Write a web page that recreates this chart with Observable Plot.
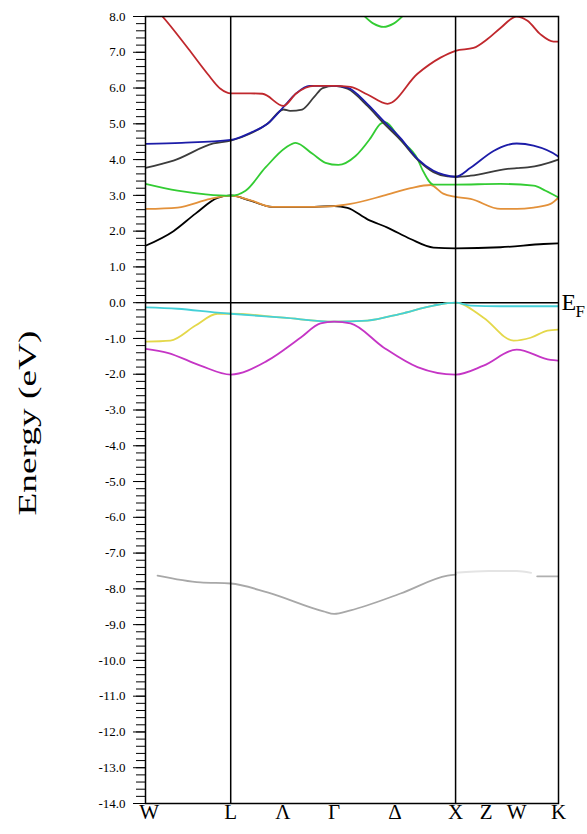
<!DOCTYPE html>
<html><head><meta charset="utf-8">
<script src="https://cdn.jsdelivr.net/npm/d3@7"></script>
<script src="https://cdn.jsdelivr.net/npm/@observablehq/plot@0.6"></script>
<style>body{margin:0;background:#fff}</style>
</head><body><div id="chart"></div>
<script>
// high-symmetry path labels and their k positions
const kNames = ["W","L","Λ","Γ","Δ","X","Z","W","K"];
const kPos   = [0.03, 0.707, 1.14, 1.565, 2.07, 2.573, 2.826, 3.08, 3.427];
const kLines = [0.707, 2.573];
const yMajor = d3.range(-14, 8.001, 1);
const yMinor = d3.range(-14, 8.001, 0.2);

// bands: [k, energy eV]
const bandGray = [[0.1,-7.63],[0.456,-7.82],[0.707,-7.85],[1.012,-8.1],[1.477,-8.63],[1.565,-8.7],[1.701,-8.6],[2.116,-8.13],[2.506,-7.63],[2.573,-7.6]];
const bandGrayFaint = [[2.573,-7.55],[2.85,-7.5],[3.08,-7.5],[3.2,-7.55]];
const bandGrayK = [[3.25,-7.65],[3.427,-7.65]];
const bandMagenta = [[0,-1.29],[0.183,-1.4],[0.456,-1.76],[0.707,-2.01],[1.012,-1.62],[1.286,-0.98],[1.452,-0.58],[1.565,-0.53],[1.701,-0.58],[1.975,-1.25],[2.257,-1.8],[2.573,-2.01],[2.805,-1.76],[3.08,-1.31],[3.361,-1.6],[3.427,-1.62]];
const bandYellow = [[0,-1.09],[0.207,-1.06],[0.415,-0.64],[0.597,-0.31],[0.707,-0.31],[1.145,-0.42],[1.565,-0.53],[1.842,-0.5],[2.116,-0.31],[2.39,-0.08],[2.573,0],[2.805,-0.42],[3.054,-1.06],[3.195,-0.98],[3.336,-0.78],[3.427,-0.75]];
const bandCyan = [[0,-0.13],[0.266,-0.17],[0.597,-0.28],[0.707,-0.31],[1.145,-0.42],[1.565,-0.53],[1.842,-0.5],[2.116,-0.31],[2.39,-0.08],[2.573,0],[2.697,-0.08],[2.946,-0.1],[3.427,-0.1]];
const bandBlack = [[0,1.59],[0.232,2.0],[0.415,2.49],[0.597,2.93],[0.707,3.0],[0.871,2.85],[1.05,2.68],[1.4,2.68],[1.565,2.7],[1.676,2.65],[1.842,2.33],[2.008,2.1],[2.199,1.78],[2.39,1.54],[2.573,1.52],[2.946,1.55],[3.303,1.64],[3.427,1.66]];
const bandOrange = [[0,2.62],[0.266,2.66],[0.539,2.9],[0.707,2.99],[0.88,2.85],[1.05,2.68],[1.4,2.68],[1.565,2.7],[1.701,2.76],[1.975,2.99],[2.2,3.2],[2.365,3.29],[2.47,3.05],[2.573,2.96],[2.697,2.9],[2.946,2.62],[3.08,2.62],[3.22,2.66],[3.361,2.76],[3.427,2.94]];
const bandGreen = [[0,3.32],[0.266,3.13],[0.5,3.03],[0.707,2.99],[0.83,3.13],[0.996,3.78],[1.162,4.33],[1.245,4.47],[1.386,4.16],[1.494,3.91],[1.6,3.85],[1.743,4.1],[1.867,4.6],[1.95,5.0],[1.99,5.05],[2.116,4.55],[2.257,4.02],[2.3,3.7],[2.39,3.3],[2.573,3.3],[2.946,3.32],[3.22,3.27],[3.32,3.13],[3.427,2.94]];
const bandDark = [[0,3.77],[0.232,3.97],[0.564,4.45],[0.707,4.53],[0.871,4.73],[1.012,5.0],[1.145,5.4],[1.2,5.36],[1.3,5.4],[1.4,5.75],[1.47,6.0],[1.565,6.06],[1.676,5.98],[1.842,5.5],[1.975,5.02],[2.116,4.55],[2.257,4.0],[2.39,3.65],[2.506,3.53],[2.573,3.52],[2.697,3.55],[3.004,3.74],[3.08,3.76],[3.17,3.78],[3.419,3.99],[3.427,4.0]];
const bandBlue = [[0,4.44],[0.3,4.47],[0.707,4.55],[0.871,4.75],[1.012,5.0],[1.145,5.47],[1.25,5.85],[1.36,6.06],[1.565,6.06],[1.676,6.01],[1.842,5.55],[1.975,5.08],[2.116,4.6],[2.257,4.02],[2.39,3.69],[2.473,3.58],[2.573,3.52],[2.697,3.77],[2.888,4.24],[3.004,4.41],[3.08,4.45],[3.22,4.39],[3.419,4.1],[3.427,4.08]];
const bandRed = [[0,8.5],[0.141,8.0],[0.357,7.09],[0.514,6.4],[0.622,5.98],[0.707,5.85],[0.871,5.85],[0.97,5.84],[1.145,5.5],[1.25,5.85],[1.4,6.06],[1.565,6.06],[1.701,6.03],[1.842,5.82],[2.008,5.56],[2.257,6.4],[2.448,6.85],[2.573,7.04],[2.722,7.12],[2.838,7.37],[2.946,7.68],[3.08,8.0],[3.17,7.88],[3.278,7.5],[3.386,7.3],[3.427,7.3]];
const bandGreenTop = [[1.79,8.1],[1.892,7.8],[1.975,7.71],[2.058,7.8],[2.16,8.1]];

const efLabel = [{k: 3.427, e: 0}];

const bands = [
  {d: bandGray, c: "#a8a8a8"},
  {d: bandGrayFaint, c: "#e4e4e4"},
  {d: bandGrayK, c: "#b0b0b0"},
  {d: bandBlack, c: "#000000"},
  {d: bandOrange, c: "#e3913a"},
  {d: bandGreen, c: "#33cc33"},
  {d: bandDark, c: "#3c3c3c"},
  {d: bandBlue, c: "#1c1ca8"},
  {d: bandRed, c: "#c0282d"},
  {d: bandGreenTop, c: "#33cc33"},
  {d: bandYellow, c: "#e4d84a"},
  {d: bandCyan, c: "#44d0d8"},
  {d: bandMagenta, c: "#c535c5"}
];

const serif = "'Liberation Serif','Times New Roman',serif";
const svg = Plot.plot({
  width: 587, height: 834,
  marginLeft: 145, marginRight: 29, marginTop: 16, marginBottom: 31,
  style: {fontFamily: serif, background: "#fff", color: "#000"},
  x: {domain: [0, 3.427], axis: null},
  y: {domain: [-14, 8], axis: null},
  marks: [
    Plot.axisY(yMinor, {tickSize: 9, tickFormat: () => "", label: null, stroke: "#000"}),
    Plot.axisY(yMajor, {tickSize: 12, tickPadding: 8, tickFormat: d => d.toFixed(1), fontSize: 13, label: null, stroke: "#000"}),
    Plot.ruleY([0], {stroke: "#000", strokeWidth: 1.5}),
    ...bands.map(b => Plot.line(b.d, {x: d => d[0], y: d => d[1], stroke: b.c, strokeWidth: 1.8, curve: "monotone-x", clip: true})),
    Plot.ruleX(kLines, {stroke: "#000", strokeWidth: 1.5}),
    Plot.frame({stroke: "#000", strokeWidth: 1.5}),
    Plot.text(kNames.map((n, i) => ({n, k: kPos[i]})), {x: "k", text: "n", frameAnchor: "bottom", dy: 15, fontSize: 21, fill: "#000"}),
    Plot.text(efLabel, {x: "k", y: "e", text: () => "E", dx: 3, textAnchor: "start", fontSize: 24, fill: "#000"}),
    Plot.text(efLabel, {x: "k", y: "e", text: () => "F", dx: 17, dy: 9, textAnchor: "start", fontSize: 17, fill: "#000"})
  ]
});
d3.select(svg).append("text")
  .attr("transform", "translate(36,423) rotate(-90)")
  .attr("text-anchor", "middle")
  .attr("font-size", 25)
  .attr("font-family", serif)
  .attr("textLength", 185)
  .attr("lengthAdjust", "spacingAndGlyphs")
  .attr("fill", "#000")
  .text("Energy (eV)");
document.getElementById("chart").appendChild(svg);
</script>
</body></html>
